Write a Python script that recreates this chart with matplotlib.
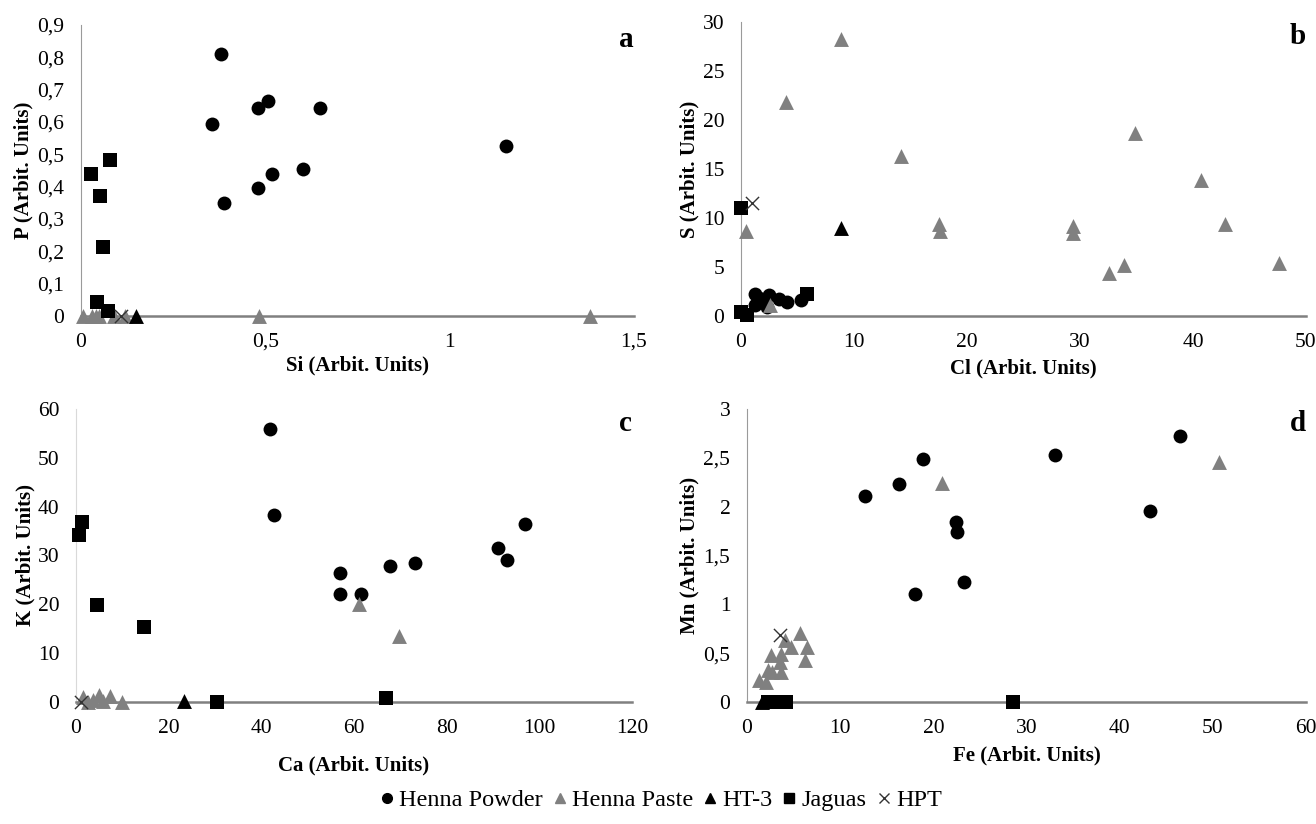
import matplotlib
matplotlib.use("Agg")
import matplotlib.pyplot as plt
from matplotlib.ticker import FuncFormatter, MultipleLocator

plt.rcParams['font.family'] = 'serif'
plt.rcParams['font.serif'] = ['Liberation Serif', 'DejaVu Serif']

# ---- panel a: P vs Si ----
a_powder_x = [0.381, 0.356, 0.479, 0.508, 0.649, 0.387, 0.479, 0.517, 0.601, 1.153]
a_powder_y = [0.81, 0.593, 0.644, 0.664, 0.644, 0.35, 0.395, 0.44, 0.454, 0.526]
a_paste_x = [0.005, 0.03, 0.04, 0.05, 0.09, 0.12, 0.484, 1.38]
a_paste_y = [0, 0, 0, 0, 0, 0, 0, 0]
a_ht3_x = [0.148]
a_ht3_y = [0]
a_jaguas_x = [0.028, 0.051, 0.08, 0.059, 0.044, 0.074]
a_jaguas_y = [0.439, 0.37, 0.484, 0.214, 0.042, 0.016]
a_hpt_x = [0.108]
a_hpt_y = [0]

# ---- panel b: S vs Cl ----
b_powder_x = [1.2, 1.2, 2.45, 2.3, 3.4, 4.1, 5.3, 1.6]
b_powder_y = [2.2, 1.1, 2.1, 0.9, 1.7, 1.4, 1.6, 1.8]
b_paste_x = [8.85, 4.0, 14.2, 34.9, 40.7, 17.5, 17.6, 29.4, 29.4, 42.8, 32.6, 33.9, 47.6, 0.4, 2.6]
b_paste_y = [28.3, 21.8, 16.3, 18.7, 13.9, 9.4, 8.7, 9.2, 8.5, 9.4, 4.4, 5.2, 5.4, 8.7, 1.1]
b_ht3_x = [8.85]
b_ht3_y = [9.0]
b_jaguas_x = [0, 0, 0.5, 5.8]
b_jaguas_y = [11.0, 0.45, 0.1, 2.2]
b_hpt_x = [1.0]
b_hpt_y = [11.5]

# ---- panel c: K vs Ca ----
c_powder_x = [41.9, 42.7, 57.0, 57.0, 61.5, 67.7, 73.2, 91.0, 93.0, 96.9]
c_powder_y = [56.0, 38.2, 26.4, 22.2, 22.2, 27.8, 28.5, 31.6, 29.0, 36.5]
c_paste_x = [61.0, 69.8, 1.5, 2.5, 3.6, 4.9, 5.9, 7.3, 10.0]
c_paste_y = [20.0, 13.6, 1.1, 0, 0.5, 1.5, 0.3, 1.3, 0]
c_ht3_x = [23.3]
c_ht3_y = [0.3]
c_jaguas_x = [0.6, 1.4, 4.5, 14.6, 30.4, 66.8]
c_jaguas_y = [34.1, 36.9, 19.8, 15.3, 0, 0.8]
c_hpt_x = [1.1]
c_hpt_y = [0]

# ---- panel d: Mn vs Fe ----
d_powder_x = [12.7, 16.3, 18.9, 18.0, 22.4, 22.5, 23.3, 33.1, 43.3, 46.5]
d_powder_y = [2.11, 2.23, 2.49, 1.11, 1.84, 1.74, 1.23, 2.53, 1.96, 2.72]
d_paste_x = [20.9, 50.7, 1.3, 2.0, 2.3, 2.6, 2.7, 3.5, 3.7, 3.7, 4.1, 4.7, 5.7, 6.4, 6.2]
d_paste_y = [2.24, 2.46, 0.23, 0.20, 0.33, 0.48, 0.31, 0.41, 0.49, 0.31, 0.63, 0.56, 0.71, 0.56, 0.43]
d_ht3_x = [1.6]
d_ht3_y = [0]
d_jaguas_x = [2.3, 3.0, 3.6, 4.2, 28.5]
d_jaguas_y = [0, 0, 0, 0, 0]
d_hpt_x = [3.5]
d_hpt_y = [0.69]

GRAY = '#808080'
W, H = 1316, 824


def comma(v, pos):
    return ('%g' % round(v, 3)).replace('.', ',')


def make_axes(fig, left, right, top, bottom):
    return fig.add_axes([left / W, 1 - bottom / H, (right - left) / W, (bottom - top) / H])


def draw(ax, pw, pa, ht, ja, hp):
    kw = dict(clip_on=False, zorder=3, linewidths=0)
    ax.scatter(*pw, marker='o', s=100, color='black', **kw)
    ax.scatter(*pa, marker='^', s=115, color=GRAY, **kw)
    ax.scatter(*ht, marker='^', s=115, color='black', **kw)
    ax.scatter(*ja, marker='s', s=105, color='black', **kw)
    ax.scatter(*hp, marker='x', s=90, color='#333333', linewidths=1.0, clip_on=False, zorder=3)


def style(ax, box, xlim, ylim, xstep, ystep, xlabel, ylabel, letter, xlab_y, ylab_x,
          left_color='#9a9a9a'):
    left, right, top, bottom = box
    ax.set_xlim(*xlim)
    ax.set_ylim(*ylim)
    ax.xaxis.set_major_locator(MultipleLocator(xstep))
    ax.yaxis.set_major_locator(MultipleLocator(ystep))
    ax.xaxis.set_major_formatter(FuncFormatter(comma))
    ax.yaxis.set_major_formatter(FuncFormatter(comma))
    for s in ['top', 'right']:
        ax.spines[s].set_visible(False)
    ax.spines['left'].set_color(left_color)
    ax.spines['bottom'].set_color('#808080')
    ax.spines['bottom'].set_linewidth(1.8)
    ax.tick_params(length=0, labelsize=15.5, pad=12)
    ax.set_xlabel(xlabel, fontsize=15, fontweight='bold', va='center')
    ax.set_ylabel(ylabel, fontsize=15, fontweight='bold', va='center')
    ax.xaxis.set_label_coords(0.5, -(xlab_y - bottom) / (bottom - top))
    ax.yaxis.set_label_coords(-(left - ylab_x) / (right - left), 0.5)
    ax.text(1.0, 0.95, letter, transform=ax.transAxes, fontsize=21, fontweight='bold',
            ha='right', va='center')


fig = plt.figure(figsize=(W / 100, H / 100), dpi=100)

box = (81, 634, 25, 316)
ax = make_axes(fig, *box)
draw(ax, (a_powder_x, a_powder_y), (a_paste_x, a_paste_y), (a_ht3_x, a_ht3_y),
     (a_jaguas_x, a_jaguas_y), (a_hpt_x, a_hpt_y))
style(ax, box, (0, 1.5), (0, 0.9), 0.5, 0.1, 'Si (Arbit. Units)', 'P (Arbit. Units)', 'a',
      365, 23)

box = (741, 1306, 22, 316)
ax = make_axes(fig, *box)
draw(ax, (b_powder_x, b_powder_y), (b_paste_x, b_paste_y), (b_ht3_x, b_ht3_y),
     (b_jaguas_x, b_jaguas_y), (b_hpt_x, b_hpt_y))
style(ax, box, (0, 50), (0, 30), 10, 5, 'Cl (Arbit. Units)', 'S (Arbit. Units)', 'b',
      368, 689)

box = (76, 632, 409, 702)
ax = make_axes(fig, *box)
draw(ax, (c_powder_x, c_powder_y), (c_paste_x, c_paste_y), (c_ht3_x, c_ht3_y),
     (c_jaguas_x, c_jaguas_y), (c_hpt_x, c_hpt_y))
style(ax, box, (0, 120), (0, 60), 20, 10, 'Ca (Arbit. Units)', 'K (Arbit. Units)', 'c',
      765, 25, left_color='#d9d9d9')

box = (747, 1306, 409, 702)
ax = make_axes(fig, *box)
draw(ax, (d_powder_x, d_powder_y), (d_paste_x, d_paste_y), (d_ht3_x, d_ht3_y),
     (d_jaguas_x, d_jaguas_y), (d_hpt_x, d_hpt_y))
style(ax, box, (0, 60), (0, 3), 10, 0.5, 'Fe (Arbit. Units)', 'Mn (Arbit. Units)', 'd',
      755, 689)

# legend
handles = [
    plt.Line2D([], [], marker='o', ls='', color='black', markersize=7),
    plt.Line2D([], [], marker='^', ls='', color=GRAY, markersize=7),
    plt.Line2D([], [], marker='^', ls='', color='black', markersize=7),
    plt.Line2D([], [], marker='s', ls='', color='black', markersize=7),
    plt.Line2D([], [], marker='x', ls='', color='#333333', markersize=7),
]
labels = ['Henna Powder', 'Henna Paste', 'HT-3', 'Jaguas', 'HPT']
fig.legend(handles, labels, loc='center', bbox_to_anchor=(660 / W, 1 - 800 / H), ncol=5,
           frameon=False, fontsize=17.5, handletextpad=0.15, columnspacing=0.35,
           handlelength=0.7)

fig.savefig('out.png', dpi=100)
